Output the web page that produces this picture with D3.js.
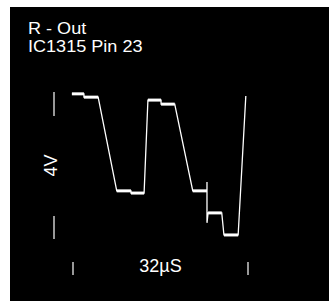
<!DOCTYPE html>
<html>
<head>
<meta charset="utf-8">
<script src="https://cdn.jsdelivr.net/npm/d3@7"></script>
<style>
  body { margin: 0; background: #fff; }
  #chart { width: 329px; height: 301px; }
  text { font-family: "Liberation Sans", Arial, sans-serif; fill: #fff; }
</style>
</head>
<body>
<div id="chart"></div>
<script>
// trace samples: time in µs, level in V
const timeUs = [-0.2, 2.0, 2.0, 4.6, 8.0, 10.6, 10.6, 13.0, 13.7, 16.1, 16.1, 18.6,
                21.9, 24.5, 24.5, 24.5, 24.7, 27.2, 27.6, 30.2, 31.6];
const volts  = [3.95, 3.95, 3.86, 3.86, 1.31, 1.31, 1.25, 1.25, 3.78, 3.78, 3.67, 3.67,
                1.31, 1.31, 1.55, 0.44, 0.71, 0.71, 0.11, 0.11, 3.89];

const titleLines = ["R - Out", "IC1315 Pin 23"];
const voltLabel = "4V";
const timeLabel = "32\u00b5S";
const timeSpan = [0, 32];
const voltSpan = [0, 4];

const width = 329, height = 301;

const svg = d3.select("#chart")
    .append("svg")
    .attr("width", width)
    .attr("height", height);

// screen background
svg.append("rect")
    .attr("x", 10)
    .attr("y", 7)
    .attr("width", width - 10)
    .attr("height", height - 7)
    .attr("fill", "#000");

const xScale = d3.scaleLinear().domain(timeSpan).range([73, 248]);
const yScale = d3.scaleLinear().domain(voltSpan).range([239, 92]);

/*
TITLE
*/
const title = svg.append("g")
    .attr("transform", "translate(28,0) scale(1.13,1)");

title.selectAll(".title")
    .data(titleLines)
    .enter()
    .append("text")
        .attr("class", "title")
        .attr("x", 0)
        .attr("y", (d, i) => 34.5 + i * 18)
        .attr("font-size", 16)
        .text(d => d);

/*
SCALE MARKERS
*/
const vx = 54;
svg.append("line")
    .attr("x1", vx).attr("x2", vx)
    .attr("y1", yScale(voltSpan[1])).attr("y2", yScale(voltSpan[1]) + 24)
    .attr("stroke", "#fff").attr("stroke-width", 1.2);
svg.append("line")
    .attr("x1", vx).attr("x2", vx)
    .attr("y1", yScale(voltSpan[0]) - 23).attr("y2", yScale(voltSpan[0]))
    .attr("stroke", "#fff").attr("stroke-width", 1.2);

svg.append("text")
    .attr("transform", `translate(${vx + 3},${(yScale(0) + yScale(4)) / 2}) rotate(-90)`)
    .attr("text-anchor", "middle")
    .attr("font-size", 18)
    .text(voltLabel);

svg.selectAll(".tmark")
    .data(timeSpan)
    .enter()
    .append("line")
        .attr("class", "tmark")
        .attr("x1", d => xScale(d)).attr("x2", d => xScale(d))
        .attr("y1", 262).attr("y2", 275)
        .attr("stroke", "#fff").attr("stroke-width", 1.2);

svg.append("text")
    .attr("x", (xScale(timeSpan[0]) + xScale(timeSpan[1])) / 2)
    .attr("y", 272)
    .attr("text-anchor", "middle")
    .attr("font-size", 18)
    .text(timeLabel);

/*
TRACE
*/
const pts = timeUs.map((t, i) => ({t: t, v: volts[i]}));

const line = d3.line()
    .x(d => xScale(d.t))
    .y(d => yScale(d.v));

svg.append("path")
    .datum(pts)
    .attr("d", line)
    .attr("fill", "none")
    .attr("stroke", "#fff")
    .attr("stroke-width", 1.3);

// flat parts of the trace show brighter / thicker on the scope
const flats = [];
for (let i = 1; i < pts.length; i++) {
    if (pts[i].v === pts[i - 1].v) flats.push([pts[i - 1], pts[i]]);
}
svg.selectAll(".flat")
    .data(flats)
    .enter()
    .append("line")
        .attr("class", "flat")
        .attr("x1", d => xScale(d[0].t))
        .attr("x2", d => xScale(d[1].t))
        .attr("y1", d => yScale(d[0].v))
        .attr("y2", d => yScale(d[1].v))
        .attr("stroke", "#fff")
        .attr("stroke-width", 3);
</script>
</body>
</html>
